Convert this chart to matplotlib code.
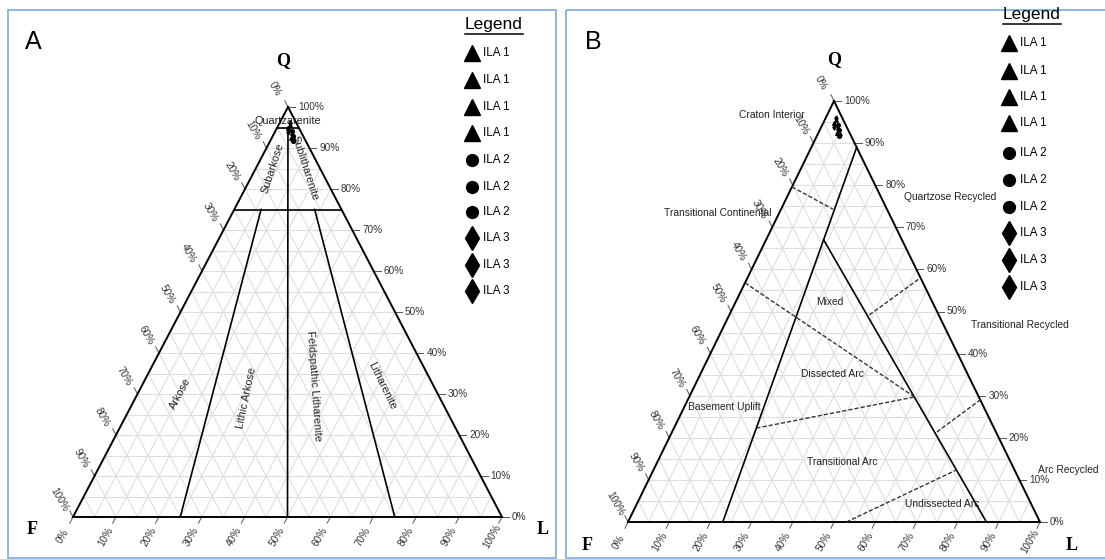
import numpy as np
import matplotlib
matplotlib.use("Agg")
import matplotlib.pyplot as plt
from matplotlib.patches import Rectangle

plt.rcParams['font.family'] = ['Liberation Sans', 'DejaVu Sans']

# sample compositions (percent of Q, F, L) for each group
ila1_q = [95.5, 94.8, 93.6, 92.4]
ila1_f = [1.8, 2.5, 2.2, 3.1]
ila1_l = [2.7, 2.7, 4.2, 4.5]
ila2_q = [94.2, 93.0, 91.8]
ila2_f = [2.0, 2.4, 2.9]
ila2_l = [3.8, 4.6, 5.3]
ila3_q = [96.0, 93.8, 92.0]
ila3_f = [1.5, 3.0, 2.6]
ila3_l = [2.5, 3.2, 5.4]

legend_labels = ["ILA 1"] * 4 + ["ILA 2"] * 3 + ["ILA 3"] * 3
legend_markers = ["^"] * 4 + ["o"] * 3 + ["d"] * 3

ticks = np.arange(0, 101, 10)

# Folk classification boundaries: (Q, F, L) start -> end
folk_lines = [
    ((95, 5, 0), (95, 0, 5)),
    ((75, 25, 0), (75, 0, 25)),
    ((95, 2.5, 2.5), (0, 50, 50)),
    ((75, 18.75, 6.25), (0, 75, 25)),
    ((75, 6.25, 18.75), (0, 25, 75)),
]
folk_labels = [
    ("Quartzarenite", (96.5, 1.75, 1.75), 0),
    ("Subarkose", (85, 11, 4), 72),
    ("Sublitharenite", (85, 3.5, 11.5), -72),
    ("Arkose", (30, 60, 10), 62),
    ("Lithic Arkose", (29, 45, 26), 78),
    ("Feldspathic Litharenite", (32, 28, 40), -86),
    ("Litharenite", (32, 12, 56), -64),
]

# Dickinson provenance fields
dick_solid = [
    ((89, 0, 11), (0, 77, 23)),
    ((67, 19, 14), (0, 13, 87)),
]
dick_dashed = [
    ((79.6, 20.4, 0), (74.3, 13.1, 12.6)),
    ((56.8, 43.2, 0), (29.7, 15.6, 54.7)),
    ((22.3, 57.7, 20.0), (29.7, 15.6, 54.7)),
    ((49.2, 16.8, 34.0), (58.0, 0, 42.0)),
    ((21.4, 14.3, 64.3), (29.0, 0, 71.0)),
    ((0, 47, 53), (12.4, 14.0, 73.6)),
]
dick_labels = [
    ("Craton Interior", (772, 115)),
    ("Transitional Continental", (718, 213)),
    ("Quartzose Recycled", (950, 197)),
    ("Mixed", (830, 302)),
    ("Transitional Recycled", (1020, 325)),
    ("Dissected Arc", (832, 374)),
    ("Basement Uplift", (724, 407)),
    ("Transitional Arc", (842, 462)),
    ("Arc Recycled", (1068, 470)),
    ("Undissected Arc", (942, 504)),
]

panel_a = {"Q": (288, 107), "F": (73, 517), "L": (502, 517)}
panel_b = {"Q": (834, 101), "F": (628, 522), "L": (1040, 522)}


def tern(V, q, f, l):
    q, f, l = np.asarray(q, float), np.asarray(f, float), np.asarray(l, float)
    s = q + f + l
    q, f, l = q / s, f / s, l / s
    x = q * V["Q"][0] + f * V["F"][0] + l * V["L"][0]
    y = q * V["Q"][1] + f * V["F"][1] + l * V["L"][1]
    return x, y


def unit(a, b):
    d = np.array(b, float) - np.array(a, float)
    return d / np.hypot(*d)


def draw_triangle(ax, V):
    # light grid every 5 %
    for k in range(5, 100, 5):
        for p0, p1 in [((k, 100 - k, 0), (k, 0, 100 - k)),
                       ((100 - k, k, 0), (0, k, 100 - k)),
                       ((100 - k, 0, k), (0, 100 - k, k))]:
            x, y = tern(V, *zip(p0, p1))
            ax.plot(x, y, color="#dedede", lw=0.8, zorder=1)
    x, y = tern(V, [100, 0, 0, 100], [0, 100, 0, 0], [0, 0, 100, 0])
    ax.plot(x, y, color="black", lw=1.4, zorder=3, solid_joinstyle="miter")

    up_left = unit(V["L"], V["Q"])
    down_left = unit(V["Q"], V["F"])
    tl = 7
    for t in ticks:
        # right edge: Q %
        x, y = tern(V, t, 0, 100 - t)
        ax.plot([x, x + tl], [y, y], color="#555555", lw=0.7)
        ax.text(x + tl + 3, y, f"{t}%", fontsize=7.2, ha="left", va="center", color="#333333")
        # left edge: F %
        x, y = tern(V, 100 - t, t, 0)
        ax.plot([x, x + tl * up_left[0]], [y, y + tl * up_left[1]], color="#555555", lw=0.7)
        ax.text(x + 20 * up_left[0] - 4, y + 20 * up_left[1], f"{t}%", fontsize=7.2,
                rotation=-60, ha="center", va="center", color="#333333")
        # bottom edge: L %
        x, y = tern(V, 0, 100 - t, t)
        ax.plot([x, x + tl * down_left[0]], [y, y + tl * down_left[1]], color="#555555", lw=0.7)
        ax.text(x + 22 * down_left[0], y + 22 * down_left[1], f"{t}%", fontsize=7.2,
                rotation=60, ha="center", va="center", color="#333333")


def draw_samples(ax, V):
    groups = [(ila1_q, ila1_f, ila1_l, "^"), (ila2_q, ila2_f, ila2_l, "o"),
              (ila3_q, ila3_f, ila3_l, "d")]
    for q, f, l, m in groups:
        x, y = tern(V, q, f, l)
        ax.plot(x, y, m, color="black", markersize=2.6, ls="none", zorder=5)


def draw_legend(ax, cx, ty, mx, rows):
    ax.text(cx, ty, "Legend", fontsize=12.5, ha="center", va="center")
    ax.plot([cx - 29, cx + 29], [ty + 9, ty + 9], color="black", lw=1.1)
    for yy, lab, m in zip(rows, legend_labels, legend_markers):
        ms = {"^": 11, "o": 8.5, "d": 12}[m]
        ax.plot([mx], [yy], m, color="black", markersize=ms, ls="none")
        ax.text(mx + 11, yy, lab, fontsize=8.4, ha="left", va="center")


fig = plt.figure(figsize=(11.05, 5.59), dpi=100)
ax = fig.add_axes([0, 0, 1, 1])
ax.set_xlim(0, 1105)
ax.set_ylim(559, 0)
ax.axis("off")

# panel frames
ax.add_patch(Rectangle((7.5, 9.5), 548, 548, fill=False, ec="#7fa9dc", lw=1.2))
ax.add_patch(Rectangle((566, 9.5), 560, 548, fill=False, ec="#7fa9dc", lw=1.2))

# ---- panel A: Folk QFL ----
draw_triangle(ax, panel_a)
for p0, p1 in folk_lines:
    x, y = tern(panel_a, *zip(p0, p1))
    ax.plot(x, y, color="black", lw=1.2, zorder=3)
for txt, p, rot in folk_labels:
    x, y = tern(panel_a, *p)
    ax.text(x, y, txt, fontsize=7.8, rotation=rot, ha="center", va="center",
            color="#222222", zorder=4)
draw_samples(ax, panel_a)
ax.text(33, 42, "A", fontsize=18, ha="center", va="center")
ax.text(283, 61, "Q", fontsize=13, fontweight="bold", family="Liberation Serif",
        ha="center", va="center")
ax.text(32, 529, "F", fontsize=13, fontweight="bold", family="Liberation Serif",
        ha="center", va="center")
ax.text(543, 529, "L", fontsize=13, fontweight="bold", family="Liberation Serif",
        ha="center", va="center")
draw_legend(ax, 494, 25, 472, [53, 80, 107, 133, 160, 187, 212, 238, 265, 291])

# ---- panel B: Dickinson provenance ----
draw_triangle(ax, panel_b)
for p0, p1 in dick_solid:
    x, y = tern(panel_b, *zip(p0, p1))
    ax.plot(x, y, color="black", lw=1.2, zorder=3)
for p0, p1 in dick_dashed:
    x, y = tern(panel_b, *zip(p0, p1))
    ax.plot(x, y, color="#333333", lw=1.0, ls=(0, (3, 1.5)), zorder=3)
for txt, (x, y) in dick_labels:
    ax.text(x, y, txt, fontsize=7.4, ha="center", va="center", color="#222222", zorder=4)
draw_samples(ax, panel_b)
ax.text(593, 42, "B", fontsize=18, ha="center", va="center")
ax.text(834, 60, "Q", fontsize=13, fontweight="bold", family="Liberation Serif",
        ha="center", va="center")
ax.text(587, 545, "F", fontsize=13, fontweight="bold", family="Liberation Serif",
        ha="center", va="center")
ax.text(1072, 545, "L", fontsize=13, fontweight="bold", family="Liberation Serif",
        ha="center", va="center")
draw_legend(ax, 1032, 15, 1009, [43, 71, 97, 123, 153, 180, 207, 233, 260, 287])

fig.savefig("out.png", dpi=100)
